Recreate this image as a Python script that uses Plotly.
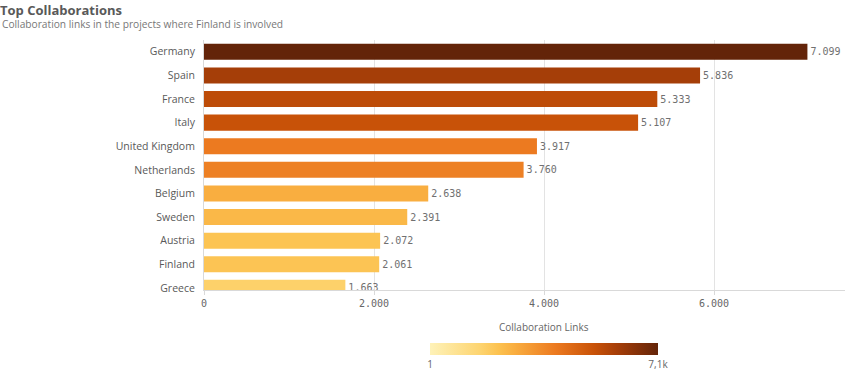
import plotly.graph_objects as go

countries = ["Germany", "Spain", "France", "Italy", "United Kingdom", "Netherlands",
             "Belgium", "Sweden", "Austria", "Finland", "Greece"]
links = [7099, 5836, 5333, 5107, 3917, 3760, 2638, 2391, 2072, 2061, 1663]
tick_vals = [0, 2000, 4000, 6000]
tick_text = ["0", "2.000", "4.000", "6.000"]
cb_vals = [1, 7099]
cb_text = ["1", "7,1k"]

labels = [f"{v:,}".replace(",", ".") for v in links]

colorscale = [
    [0.0, "#fef2b8"],
    [0.22, "#fdd470"],
    [0.30, "#fcc250"],
    [0.37, "#f9ae40"],
    [0.55, "#ec7a20"],
    [0.72, "#c85208"],
    [0.82, "#a63e08"],
    [1.0, "#632409"],
]

GRAY = "#666666"
L, T, B, R = 204, 40, 90, 5
W, H = 850, 380
PH = H - T - B

fig = go.Figure(go.Bar(
    x=links, y=countries, orientation="h",
    marker=dict(color=links, colorscale=colorscale, cmin=1, cmax=7099,
                line=dict(width=0),
                colorbar=dict(orientation="h", x=(544 - L) / (W - L - R), xanchor="center",
                              y=-(343 - (H - B)) / PH, yanchor="top", len=228, lenmode="pixels",
                              thickness=12, xpad=0, ypad=0, outlinewidth=0,
                              tickvals=cb_vals, ticktext=cb_text, ticks="",
                              tickfont=dict(family="Open Sans", size=10, color=GRAY))),
    text=labels, textposition="outside", cliponaxis=True,
    textfont=dict(family="DejaVu Sans Mono", size=10, color="#707070"),
    width=0.68, hoverinfo="skip",
))

fig.update_layout(
    width=W, height=H,
    margin=dict(l=L, r=R, t=T, b=B, autoexpand=False),
    paper_bgcolor="white", plot_bgcolor="white",
    showlegend=False,
    title=dict(text="<b>Top Collaborations</b>", x=0.0, xanchor="left", xref="container",
               y=0.985, yanchor="top", yref="container", pad=dict(l=0, t=0),
               font=dict(family="Open Sans", size=13, color="#595959")),
    xaxis=dict(range=[0, (W - R - L) / 0.085], tickvals=tick_vals, ticktext=tick_text,
               showgrid=True, gridcolor="#e3e3e3", gridwidth=1,
               zeroline=False, showline=True, linecolor="#d9d9d9",
               ticks="outside", ticklen=4, tickcolor="#d9d9d9",
               tickfont=dict(family="DejaVu Sans Mono", size=10, color=GRAY),
               fixedrange=True),
    yaxis=dict(range=[10.09, -0.5], showgrid=False, zeroline=False,
               showline=True, linecolor="#d9d9d9", ticks="", ticklabelstandoff=6,
               tickfont=dict(family="Open Sans", size=10.5, color="#595959"),
               fixedrange=True),
    annotations=[
        dict(text="Collaboration links in the projects where Finland is involved",
             x=0, xref="paper", xanchor="left", xshift=-L,
             y=1 + (T - 24) / PH, yref="paper", yanchor="middle", showarrow=False,
             font=dict(family="Open Sans", size=10.2, color="#777777")),
        dict(text="Collaboration Links", x=(544 - L) / (W - L - R), xref="paper", xanchor="center",
             y=-(327 - (H - B)) / PH, yref="paper", yanchor="middle", showarrow=False,
             font=dict(family="Open Sans", size=10, color=GRAY)),
    ],
)

fig.write_html("out.html", config={"displayModeBar": False},
               post_script="document.body.style.margin='0';")
